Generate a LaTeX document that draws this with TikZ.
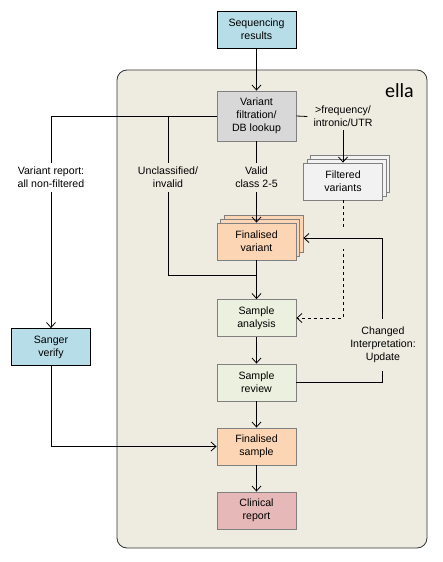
\documentclass[tikz,border=0pt]{standalone}
\usepackage{fontspec}
\setmainfont{Liberation Sans}
\newfontfamily\ellafont{Carlito}
\usetikzlibrary{arrows.meta}
\definecolor{ellabg}{RGB}{238,236,225}
\definecolor{ellaline}{RGB}{51,51,51}
\definecolor{boxgray}{RGB}{128,128,128}
\definecolor{seqblue}{RGB}{183,221,232}
\definecolor{filtgray}{RGB}{216,216,216}
\definecolor{filtlight}{RGB}{242,242,242}
\definecolor{peach}{RGB}{252,213,180}
\definecolor{sagegreen}{RGB}{235,241,222}
\definecolor{rosered}{RGB}{230,184,183}
\tikzset{
    box/.style={draw=boxgray,line width=0.8pt,minimum width=79pt,minimum height=37pt,align=center,inner sep=1pt,font=\fontsize{10.6}{13}\selectfont},
    flow/.style={line width=0.8pt,-{Straight Barb[length=5pt,width=9pt]}},
    link/.style={line width=0.8pt},
    tag/.style={align=center,font=\fontsize{10.6}{13}\selectfont,inner xsep=1pt,inner ysep=4pt}
}
\def\cx{256.5}

\begin{document}
\begin{tikzpicture}[x=1pt,y=-1pt]
  \useasboundingbox (0,0) rectangle (443,562);

  % Container
  \draw[ellaline,fill=ellabg,line width=0.8pt,rounded corners=10pt] (117,70) rectangle (427,548);
  \node[font=\ellafont\fontsize{20}{24}\selectfont,anchor=base east,inner sep=0pt] (ella) at (414,97) {ella};

  % Boxes
  \node[box,draw=black,fill=seqblue] (seq) at (\cx,29.5) {Sequencing\\results};
  \node[box,fill=filtgray,minimum height=50pt] (filt) at (\cx,116) {Variant\\filtration/\\DB lookup};
  \foreach \i in {2,1}
    \node[box,fill=filtlight] (filtered-\i) at (343+3.5*\i,181.5-4*\i) {};
  \node[box,fill=filtlight] (filtered) at (343,181.5) {Filtered\\variants};
  \foreach \i in {2,1}
    \node[box,fill=peach] (fvar-\i) at (\cx+3.5*\i,241.5-4*\i) {};
  \node[box,fill=peach] (fvar) at (\cx,241.5) {Finalised\\variant};
  \node[box,fill=sagegreen] (sana) at (\cx,318) {Sample\\analysis};
  \node[box,fill=sagegreen] (srev) at (\cx,382.5) {Sample\\review};
  \node[box,fill=peach] (fsam) at (\cx,446.5) {Finalised\\sample};
  \node[box,fill=rosered] (crep) at (\cx,510.5) {Clinical\\report};
  \node[box,draw=black,fill=seqblue] (sanger) at (51,347) {Sanger\\verify};

  % Connectors
  \node[tag,inner xsep=6pt,inner ysep=3pt] (freq) at (343,116.5) {>frequency/\\intronic/UTR};
  \coordinate (bend) at (168,275);
  \coordinate (merge) at (\cx,275);
  \coordinate (turn) at (382,238);
  \draw[flow] (seq) -- (filt);
  \draw[flow] (filt.west) -| (sanger.north);
  \draw[link] (filt.west) -| (bend) -- (merge);
  \draw[flow] (filt) -- (fvar);
  \draw[link] (filt.east) -- (freq.west);
  \draw[flow] (freq.south) -- (filtered.north);
  \draw[flow,dash pattern=on 3pt off 3pt] (filtered.south) |- (sana.east);
  \fill[ellabg] (338,228) rectangle (348,249);
  \draw[flow] (srev.east) -| (turn) -- (turn -| fvar-2.east);
  \draw[flow] (fvar) -- (sana);
  \draw[flow] (sana) -- (srev);
  \draw[flow] (srev) -- (fsam);
  \draw[flow] (fsam) -- (crep);
  \draw[flow] (sanger.south) |- (fsam.west);

  % Labels
  \node[tag,fill=white] (report) at (51,177.5) {Variant report:\\all non-filtered};
  \node[tag,fill=ellabg] (uncl) at (168,177.5) {Unclassified/\\invalid};
  \node[tag,fill=ellabg] (valid) at (\cx,177.5) {Valid\\class 2-5};
  \node[tag,fill=ellabg,inner ysep=8pt] (chg) at (383,345) {Changed\\Interpretation:\\Update};
\end{tikzpicture}
\end{document}
